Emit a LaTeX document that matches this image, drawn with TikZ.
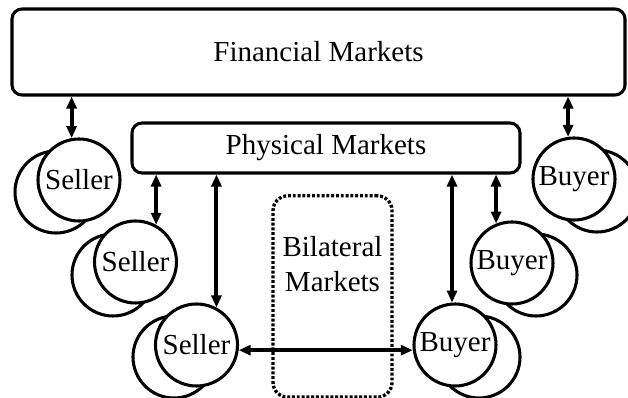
\documentclass[tikz,border=0pt]{standalone}
\usepackage{fontspec}
\setmainfont{Liberation Serif}
\usetikzlibrary{arrows.meta}
\tikzset{every picture/.style={line width=2.3pt}}
\tikzset{
  mkt/.style={draw, rounded corners=7.5pt, inner sep=0pt},
  agent/.style={draw, circle, fill=white, minimum size=61.5pt, inner sep=0pt},
  link/.style={{Triangle[length=9pt,width=7.5pt]}-{Triangle[length=9pt,width=7.5pt]}, line width=3pt},
}

\begin{document}
\begin{tikzpicture}[x=0.75pt,y=0.75pt,yscale=-1,xscale=1,font=\fontsize{21.75}{26}\selectfont]
\useasboundingbox (0,0) rectangle (628,398);

%Shape: Rounded Rect [markets]
\node[mkt, minimum width=459.75pt, minimum height=64.5pt] (fin) at (318.5,52) {Financial Markets};
\node[mkt, minimum width=291pt, minimum height=37.5pt] (phy) at (326,148) {Physical Markets};
\node[mkt, line width=2.5pt, dash pattern=on 2.2pt off 1.4pt, rounded corners=11pt, minimum width=89.25pt, minimum height=151pt] (bil) at (332.5,296.5) {};
% Text Node
\node[align=center] (biltxt) at (332.5,264) {Bilateral\\Markets};

%Shape: Circle [sellers]
\node[agent] (s1b) at (56,192) {};
\node[agent] (s1) at (79,180) {Seller};
\node[agent] (s2b) at (113,275) {};
\node[agent] (s2) at (135.5,262) {Seller};
\node[agent] (s3b) at (174,357) {};
\node[agent] (s3) at (196.5,345) {Seller};

%Shape: Circle [buyers]
\node[agent] (b1b) at (597,191) {};
\node[agent] (b1) at (574,179) {Buyer};
\node[agent] (b2b) at (536,275) {};
\node[agent] (b2) at (512,263) {Buyer};
\node[agent] (b3b) at (479,357) {};
\node[agent] (b3) at (455,345) {Buyer};

%Straight Lines [links]
\draw[link] (fin.south -| s1.100) -- (s1.100);
\draw[link] (fin.south -| b1.98) -- (b1.98);
\draw[link] (phy.south -| s2.61) -- (s2.61);
\draw[link] (phy.south -| s3.62) -- (s3.62);
\draw[link] (phy.south -| b3.94) -- (b3.94);
\draw[link] (phy.south -| b2.112) -- (b2.112);
\draw[link] (s3.-7) -- (b3.187);

\end{tikzpicture}
\end{document}
